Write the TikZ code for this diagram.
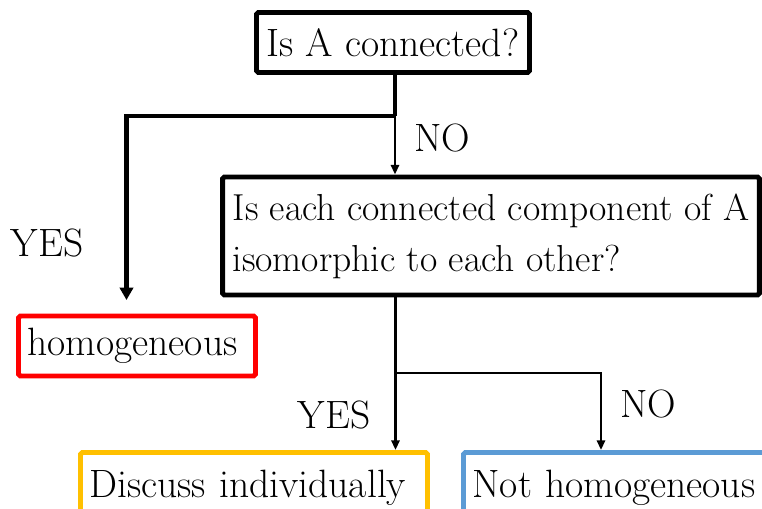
\documentclass[tikz,border=0pt]{standalone}
\usetikzlibrary{arrows.meta}
\definecolor{boxred}{RGB}{255,0,0}
\definecolor{boxgold}{RGB}{255,192,0}
\definecolor{boxblue}{RGB}{91,155,213}
\begin{document}
\begin{tikzpicture}[x=0.02cm,y=-0.02cm,
  every node/.style={font=\fontsize{22.5}{28.5}\selectfont},
  box/.style={draw,line width=2.8pt,rounded corners=1pt,inner sep=0pt},
  leftbox/.style={box,text width=#1,align=left,inner xsep=0.18cm,minimum height=1.2cm},
  thin/.style={line width=1.5pt,-{Triangle[length=5.5pt,width=4.6pt]}},
  thickline/.style={line width=2.4pt}]
\clip (0,0) rectangle (762,508);
% questions
\node[box,minimum width=5.46cm,minimum height=1.2cm] (q1) at (393,42.5) {Is A connected?};
\node[box,minimum width=10.74cm,minimum height=2.36cm,align=left,
  font=\fontsize{21.4}{29}\selectfont] (q2) at (491,236)
  {Is each connected component of A\\isomorphic to each other?};
% answers
\node[leftbox=4.38cm,draw=boxred] (hom) at (137,346) {homogeneous};
\node[leftbox=6.58cm,draw=boxgold,minimum height=1.4cm] (disc) at (254,487.5) {Discuss individually};
\node[leftbox=6.44cm,draw=boxblue,minimum height=1.4cm] (noth) at (633.5,487.5) {Not homogeneous};
% branch points
\coordinate (j1) at (395,116);
\coordinate (j2) at (395.5,373);
\coordinate (yesend) at (126.5,300);
\draw[thickline] (q1.south -| j1) -- (j1);
\draw[thickline,-{Triangle[length=7pt,width=7.5pt]}] (j1) -| (yesend);
\draw[thin] (j1) -- (q2.north -| j1);
\draw[line width=1.5pt] (q2.south -| j2) -- (j2);
\draw[thin] (j2) -- (disc.north -| j2);
\draw[thin] (j2) -| (noth.north -| 601,0);
% labels
\node (no1) at (442,138) {NO};
\node (yes1) at (47,243) {YES};
\node (yes2) at (334,415) {YES};
\node (no2) at (648,404) {NO};
\end{tikzpicture}
\end{document}
